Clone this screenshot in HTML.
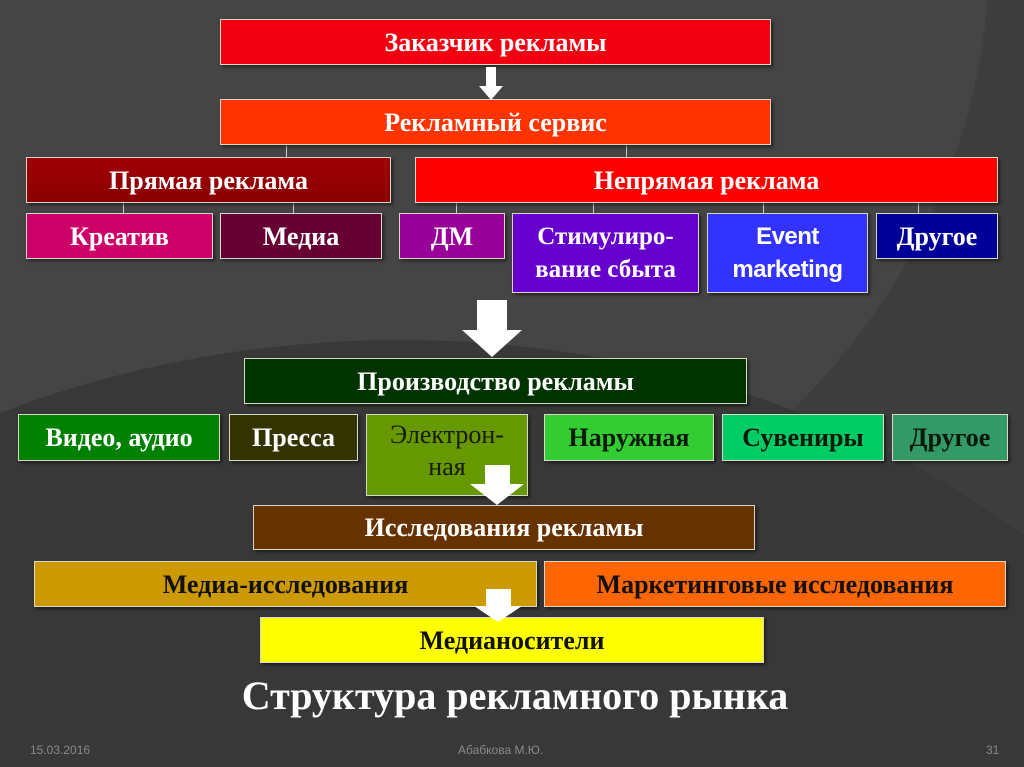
<!DOCTYPE html>
<html style="margin:0;width:1024px;height:767px;overflow:hidden"><head><meta charset="utf-8"><style>
body{margin:0;width:1024px;height:767px;overflow:hidden;background:#3d3d3d;position:relative;font-family:"Liberation Serif",serif}
.wrap{position:absolute;left:0;top:0;width:1024px;height:767px;overflow:hidden}
.bg1{position:absolute;left:-300px;top:-700px;width:1290px;height:1290px;border-radius:50%;background:#454545}
.bg2{position:absolute;left:-500px;top:340px;width:1800px;height:1400px;border-radius:50%;background:#383838}
.b{position:absolute;box-sizing:border-box;border:1.5px solid #d8d8c8;display:flex;align-items:center;justify-content:center;text-align:center;color:#fff;font-weight:bold;font-size:26px;line-height:33px;box-shadow:2px 2px 3px rgba(0,0,0,.5);white-space:nowrap}
.l{position:absolute;width:1px;background:#ccc}
.ar{position:absolute}
.f{position:absolute;color:#8a8a8a;font-family:"Liberation Sans",sans-serif;font-size:12px;top:743px}
</style></head><body>
<div class="wrap"><div class="bg1"></div><div class="bg2"></div></div>
<div class="l" style="left:286px;top:145px;height:12px"></div>
<div class="l" style="left:626px;top:145px;height:12px"></div>
<div class="l" style="left:123px;top:203px;height:10px"></div>
<div class="l" style="left:293px;top:203px;height:10px"></div>
<div class="l" style="left:456px;top:203px;height:10px"></div>
<div class="l" style="left:593px;top:203px;height:10px"></div>
<div class="l" style="left:763px;top:203px;height:10px"></div>
<div class="l" style="left:918px;top:203px;height:10px"></div>

<div class="b" style="left:220px;top:19px;width:551px;height:46px;background:#f20012">Заказчик рекламы</div>
<div class="b" style="left:220px;top:99px;width:551px;height:46px;background:#ff3300">Рекламный сервис</div>
<div class="b" style="left:26px;top:157px;width:365px;height:46px;background:linear-gradient(#a00008,#8a0000)">Прямая реклама</div>
<div class="b" style="left:415px;top:157px;width:583px;height:46px;background:#ff0000">Непрямая реклама</div>
<div class="b" style="left:26px;top:213px;width:187px;height:46px;background:#cc0066">Креатив</div>
<div class="b" style="left:220px;top:213px;width:162px;height:46px;background:#660033">Медиа</div>
<div class="b" style="left:399px;top:213px;width:106px;height:46px;background:#990099">ДМ</div>
<div class="b" style="left:512px;top:213px;width:187px;height:80px;background:#6600cc;font-size:25px">Стимулиро-<br>вание сбыта</div>
<div class="b" style="left:707px;top:213px;width:161px;height:80px;background:#3333ff;font-family:'Liberation Sans',sans-serif;font-size:24px;letter-spacing:-0.5px">Event<br>marketing</div>
<div class="b" style="left:876px;top:213px;width:122px;height:46px;background:#000099">Другое</div>

<div class="b" style="left:244px;top:358px;width:503px;height:46px;background:#003300">Производство рекламы</div>
<div class="b" style="left:18px;top:414px;width:202px;height:47px;background:#008000">Видео, аудио</div>
<div class="b" style="left:229px;top:414px;width:129px;height:47px;background:#333300">Пресса</div>
<div class="b" style="left:366px;top:414px;width:162px;height:82px;background:#669900;color:#1a1a00;align-items:flex-start;padding-top:4px;line-height:32px;font-weight:normal">Электрон-<br>ная</div>
<div class="b" style="left:544px;top:414px;width:170px;height:47px;background:#33cc33;color:#0a1a0a">Наружная</div>
<div class="b" style="left:722px;top:414px;width:162px;height:47px;background:#00cc66;color:#0a1a0a">Сувениры</div>
<div class="b" style="left:892px;top:414px;width:116px;height:47px;background:#339966;color:#0a1a0a">Другое</div>

<div class="b" style="left:253px;top:505px;width:502px;height:45px;background:#663300">Исследования рекламы</div>
<div class="b" style="left:34px;top:561px;width:503px;height:46px;background:#cc9900;color:#111">Медиа-исследования</div>
<div class="b" style="left:544px;top:561px;width:462px;height:46px;background:#ff6600;color:#111">Маркетинговые исследования</div>
<div class="b" style="left:260px;top:617px;width:504px;height:46px;background:#ffff00;color:#111">Медианосители</div>

<svg class="ar" style="left:0;top:0" width="1024" height="767">
<g fill="#fff">
<polygon points="486,67 496,67 496,86 503,86 491,100 479,86 486,86"/>
<polygon points="477,300 507,300 507,330 522,330 492,357 462,330 477,330"/>
<polygon points="485,465 510,465 510,484 524,484 497,505 470,484 485,484"/>
<polygon points="486,589 511,589 511,606 522,606 498,622 474,606 486,606"/>
</g></svg>

<div style="position:absolute;left:0;width:1030px;top:672px;text-align:center;color:#fff;font-weight:bold;font-size:40px">Структура рекламного рынка</div>
<div class="f" style="left:30px">15.03.2016</div>
<div class="f" style="left:458px">Абабкова М.Ю.</div>
<div class="f" style="left:986px">31</div>
</body></html>
